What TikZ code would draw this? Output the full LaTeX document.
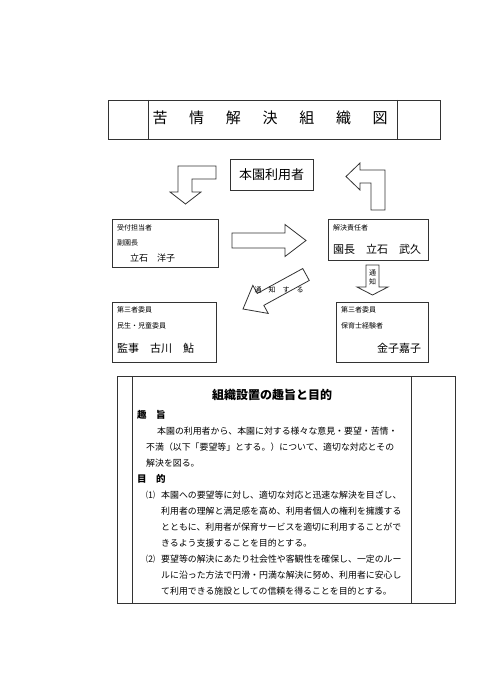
\documentclass[tikz,border=0pt]{standalone}
\usepackage{fontspec}
\setmainfont{Noto Sans CJK JP}
\usepackage{xcolor}
\definecolor{lineGray}{HTML}{333333}
\usetikzlibrary{calc, positioning}

% straight block arrow: tail, tip, shaft half width, head half width, head length, name
\newcommand{\blockarrow}[6]{%
  \coordinate (#6h) at ($(#2)!#5!(#1)$);
  \draw[blockArrow] ($(#1)!#3!90:(#2)$) -- ($(#6h)!#3!90:(#2)$) -- ($(#6h)!#4!90:(#2)$)
    -- (#2) -- ($(#6h)!#4!-90:(#2)$) -- ($(#6h)!#3!-90:(#2)$) -- ($(#1)!#3!-90:(#2)$) -- cycle;
}

\begin{document}
\begin{tikzpicture}[
        x=1pt, y=-1pt,
        frameLine/.style={
            draw=lineGray,
            line width=0.8pt
        },
        nameBox/.style={
            draw=lineGray,
            line width=0.8pt,
            inner sep=0pt
        },
        blockArrow/.style={
            draw=lineGray,
            line width=0.8pt,
            fill=white,
            line join=miter
        },
        roleText/.style={
            font=\fontsize{7}{8}\selectfont,
            anchor=base west,
            inner sep=0pt
        },
        nameText/.style={
            font=\fontsize{11}{12}\selectfont,
            anchor=base west,
            inner sep=0pt
        },
        bodyText/.style={
            font=\fontsize{8.9}{10}\selectfont,
            anchor=base west,
            inner sep=0pt
        },
        headText/.style={
            font=\fontsize{9.5}{10}\selectfont\bfseries,
            anchor=base west,
            inner sep=0pt
        }
    ]

    \useasboundingbox (0,0) rectangle (495,700);

    % Title frame
    \node[nameBox, minimum width=332, minimum height=39] (titleFrame) at (274,119.5) {};
    \draw[frameLine] (148,100) -- (148,139);
    \draw[frameLine] (397,100) -- (397,139);
    \foreach \ch [count=\i] in {苦,情,解,決,組,織,図}
        \node[font=\fontsize{15}{16}\selectfont, inner sep=0pt] (title\i) at ({160+36.7*(\i-1)},118) {\ch};

    % Boxes
    \node[nameBox, minimum width=83, minimum height=31, font=\fontsize{13}{14}\selectfont] (users) at (271.5,174.5) {本園利用者};
    \node[nameBox, minimum width=106, minimum height=48] (reception) at (165,243) {};
    \node[nameBox, minimum width=100, minimum height=41] (resolver) at (378,239.5) {};
    \node[nameBox, minimum width=104, minimum height=60] (thirdLeft) at (164,332) {};
    \node[nameBox, minimum width=92, minimum height=60] (thirdRight) at (382,332) {};

    \node[roleText] (receptionRole) at (117,230.5) {受付担当者};
    \node[roleText] (receptionPost) at (117,245.5) {副園長};
    \node[bodyText, font=\fontsize{9}{10}\selectfont] (receptionName) at (130,261.5) {立石　洋子};

    \node[roleText] (resolverRole) at (333,230.5) {解決責任者};
    \node[nameText] (resolverName) at (333,254) {園長　立石　武久};

    \node[roleText] (leftRole) at (117,312.5) {第三者委員};
    \node[roleText] (leftPost) at (117,328.5) {民生・児童委員};
    \node[nameText] (leftName) at (117,352) {監事　古川　鮎};

    \node[roleText] (rightRole) at (341,312.5) {第三者委員};
    \node[roleText] (rightPost) at (341,328.5) {保育士経験者};
    \node[nameText] (rightName) at (377,352) {金子嘉子};

    % Bent arrows
    \draw[blockArrow] (216,166) -- (178,166) -- (178,192) -- (170,192) -- (185.5,204)
        -- (201,192) -- (192,192) -- (192,179) -- (216,179) -- cycle;
    \draw[blockArrow] (385,210) -- (385,170) -- (360,170) -- (360,163) -- (346,176.5)
        -- (360,190) -- (360,183) -- (371,183) -- (371,210) -- cycle;

    % Straight arrows
    \coordinate (rightTail) at (232,240.5);
    \coordinate (rightTip) at (306,240.5);
    \blockarrow{rightTail}{rightTip}{7.5pt}{16pt}{21pt}{rightArr}

    \coordinate (downTail) at (372.5,265);
    \coordinate (downTip) at (372.5,295);
    \blockarrow{downTail}{downTip}{6.5pt}{15.5pt}{8pt}{downArr}

    \coordinate (diagTail) at (306,274.5);
    \coordinate (diagTip) at (243,309);
    \blockarrow{diagTail}{diagTip}{6.8pt}{16pt}{20pt}{diagArr}

    \node[font=\fontsize{7}{9}\selectfont, align=center, inner sep=0pt] (downLabel) at (372.5,277.5) {通\\知};
    \node[font=\fontsize{7}{8}\selectfont, inner sep=0pt] (diagLabel) at (279,290) {通　知　す　る};

    % Purpose frame
    \node[nameBox, minimum width=338, minimum height=227] (purposeFrame) at (286,489.5) {};
    \draw[frameLine] (132,376) -- (132,603);
    \draw[frameLine] (411,376) -- (411,603);

    \node[font=\fontsize{12}{13}\selectfont\bfseries, inner sep=0pt] (purposeTitle) at (272,395) {組織設置の趣旨と目的};
    \node[headText] (aimHead) at (137,418.5) {趣　旨};
    \node[headText] (goalHead) at (137,482.5) {目　的};

    \foreach \txt/\x/\y in {
        本園の利用者から、本園に対する様々な意見・要望・苦情・/157/434.4,
        不満（以下「要望等」とする。）について、適切な対応とその/146/450.4,
        解決を図る。/146/466.4,
        本園への要望等に対し、適切な対応と迅速な解決を目ざし、/161/498.4,
        利用者の理解と満足感を高め、利用者個人の権利を擁護する/161/514.4,
        とともに、利用者が保育サービスを適切に利用することがで/161/530.4,
        きるよう支援することを目的とする。/161/546.4,
        要望等の解決にあたり社会性や客観性を確保し、一定のルー/161/562.4,
        ルに沿った方法で円滑・円満な解決に努め、利用者に安心し/161/578.4,
        て利用できる施設としての信頼を得ることを目的とする。/161/594.4}
        \node[bodyText] at (\x,\y) {\txt};

    \node[bodyText] (itemOne) at (146,498.4) {⑴};
    \node[bodyText] (itemTwo) at (146,562.4) {⑵};

\end{tikzpicture}
\end{document}
